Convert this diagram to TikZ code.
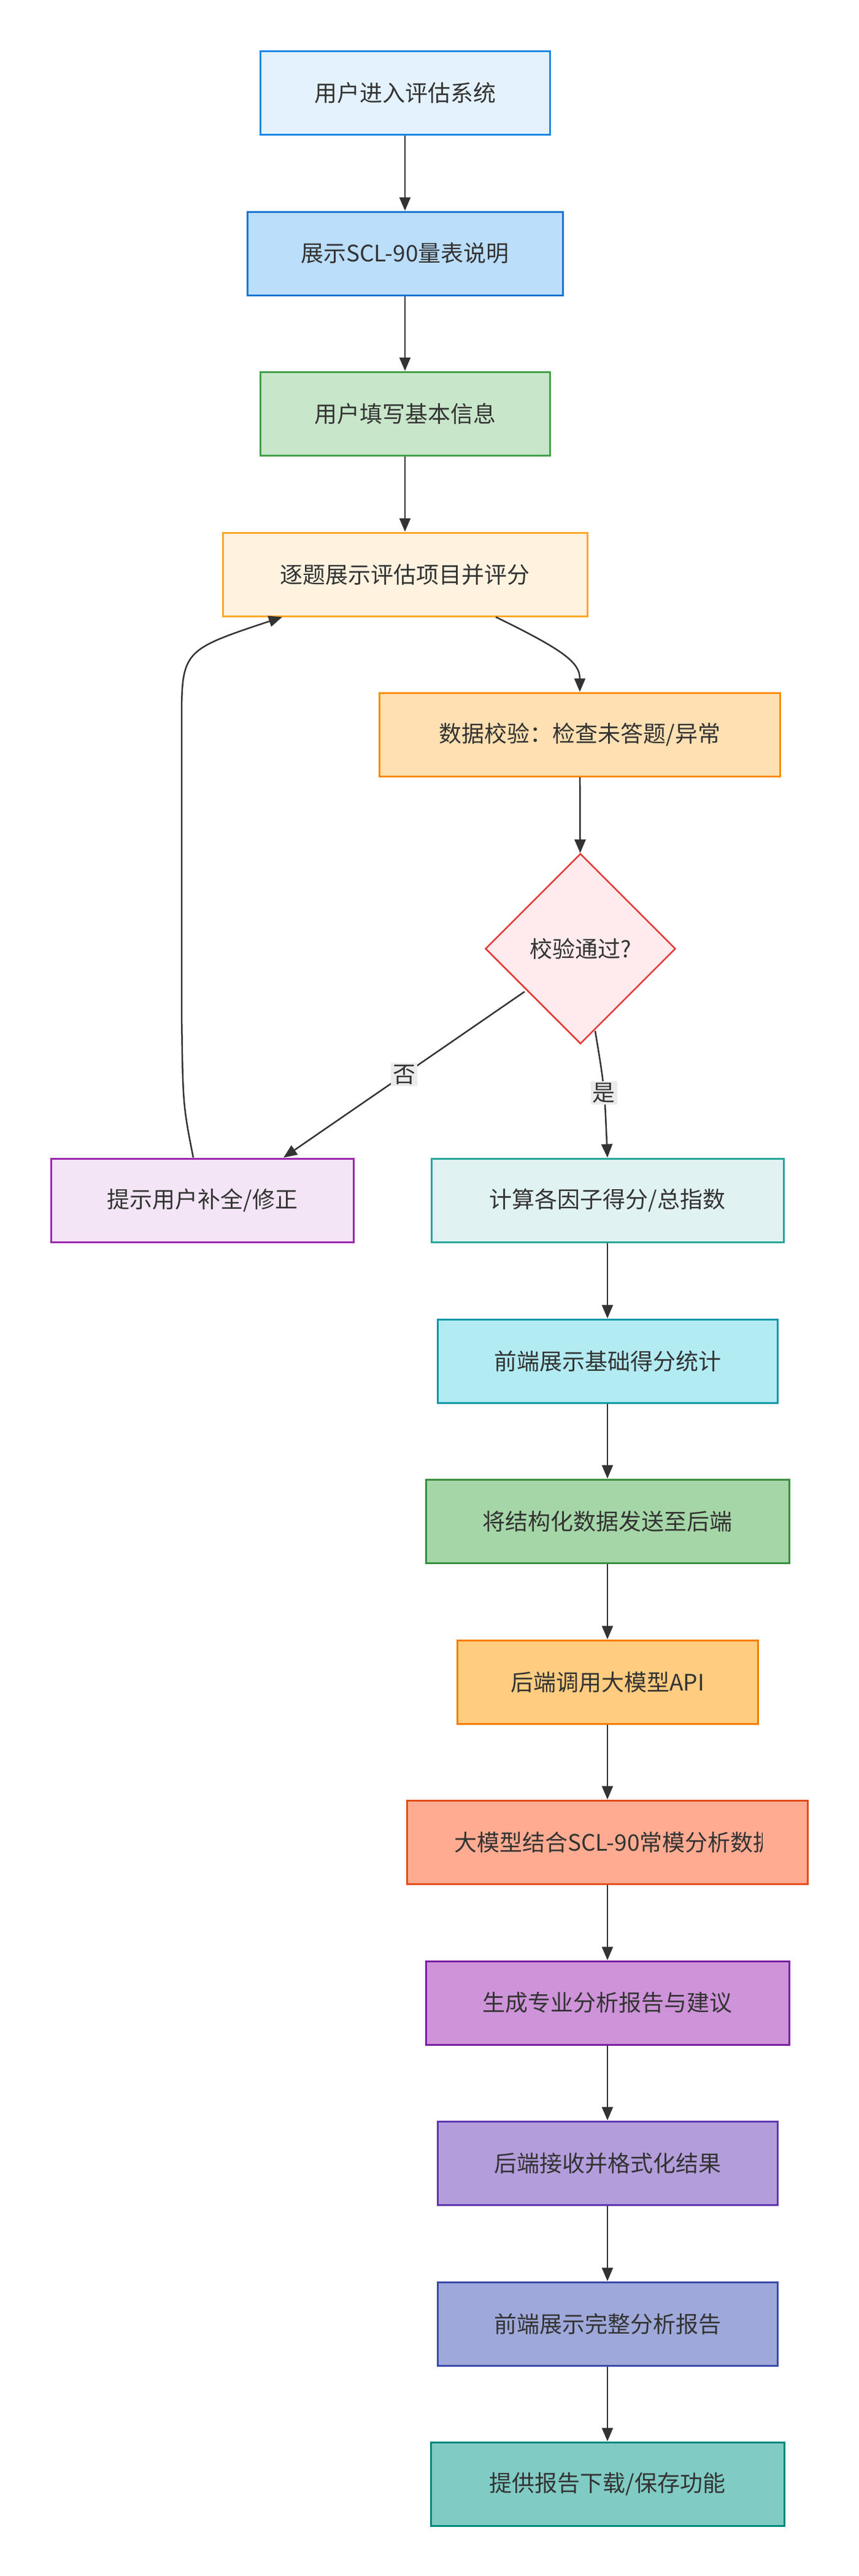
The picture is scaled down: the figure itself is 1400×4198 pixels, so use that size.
\documentclass[tikz,border=0pt]{standalone}
\usepackage{fontspec}
\setmainfont{Noto Sans CJK SC}
\usetikzlibrary{arrows.meta,shapes.geometric}
\definecolor{txt}{HTML}{333333}
\begin{document}
\begin{tikzpicture}[x=1pt,y=-1pt,
  box/.style={draw, line width=3pt, inner sep=0pt, text=txt, font=\fontsize{37}{40}\selectfont, minimum height=136pt},
  arr/.style={draw=txt, line width=2.5pt, -{Triangle[length=22pt,width=18pt]}},
  lab/.style={fill=black!8, text=txt, font=\fontsize{37}{40}\selectfont, inner sep=3pt}]
\useasboundingbox (0,0) rectangle (1400,4198);
\def\bx#1#2#3#4#5#6#7{\node[box, fill={[HTML]#5}, draw={[HTML]#6}, minimum width=#3pt] (#1) at (#2,#4) {#7};}
\node[box, fill={rgb,255:red,227;green,242;blue,253}, draw={rgb,255:red,30;green,136;blue,229}, minimum width=472pt] (n1) at (660,151) {用户进入评估系统};
\definecolor{f2}{HTML}{BBDEFB}\definecolor{s2}{HTML}{1976D2}
\definecolor{f3}{HTML}{C8E6C9}\definecolor{s3}{HTML}{43A047}
\definecolor{f4}{HTML}{FFF3E0}\definecolor{s4}{HTML}{FFA726}
\definecolor{f5}{HTML}{FFE0B2}\definecolor{s5}{HTML}{FB8C00}
\definecolor{fd}{HTML}{FFEBEE}\definecolor{sd}{HTML}{E53935}
\definecolor{f6}{HTML}{F3E5F5}\definecolor{s6}{HTML}{9C27B0}
\definecolor{f7}{HTML}{E0F2F1}\definecolor{s7}{HTML}{26A69A}
\definecolor{f8}{HTML}{B2EBF2}\definecolor{s8}{HTML}{0097A7}
\definecolor{f9}{HTML}{A5D6A7}\definecolor{s9}{HTML}{388E3C}
\definecolor{f10}{HTML}{FFCC80}\definecolor{s10}{HTML}{F57C00}
\definecolor{f11}{HTML}{FFAB91}\definecolor{s11}{HTML}{E64A19}
\definecolor{f12}{HTML}{CE93D8}\definecolor{s12}{HTML}{7B1FA2}
\definecolor{f13}{HTML}{B39DDB}\definecolor{s13}{HTML}{5E35B1}
\definecolor{f14}{HTML}{9FA8DA}\definecolor{s14}{HTML}{3949AB}
\definecolor{f15}{HTML}{80CBC4}\definecolor{s15}{HTML}{00897B}
\node[box, fill=f2, draw=s2, minimum width=514pt] (n2) at (660,413) {展示SCL-90量表说明};
\node[box, fill=f3, draw=s3, minimum width=472pt] (n3) at (660,674) {用户填写基本信息};
\node[box, fill=f4, draw=s4, minimum width=594pt] (n4) at (660,936) {逐题展示评估项目并评分};
\node[box, fill=f5, draw=s5, minimum width=653pt] (n5) at (945,1197) {数据校验：检查未答题/异常};
\node[diamond, draw=sd, fill=fd, line width=2.5pt, aspect=1, minimum width=310pt, minimum height=310pt, inner sep=0pt, text=txt, font=\fontsize{37}{40}\selectfont] (d) at (946,1546) {校验通过?};
\node[box, fill=f6, draw=s6, minimum width=493pt] (n6) at (330,1956) {提示用户补全/修正};
\node[box, fill=f7, draw=s7, minimum width=574pt] (n7) at (990,1956) {计算各因子得分/总指数};
\node[box, fill=f8, draw=s8, minimum width=554pt] (n8) at (990,2218) {前端展示基础得分统计};
\node[box, fill=f9, draw=s9, minimum width=592pt] (n9) at (990,2479) {将结构化数据发送至后端};
\node[box, fill=f10, draw=s10, minimum width=490pt] (n10) at (990,2741) {后端调用大模型API};
\node[box, fill=f11, draw=s11, minimum width=653pt] (n11) at (990,3002) {};
\begin{scope}
\clip (664,2940) rectangle (1242,3070);
\node[anchor=west, inner sep=0pt, text=txt, font=\fontsize{37}{40}\selectfont] (t11) at (740,3002) {大模型结合SCL-90常模分析数据};
\end{scope}
\node[box, fill=f12, draw=s12, minimum width=592pt] (n12) at (990,3264) {生成专业分析报告与建议};
\node[box, fill=f13, draw=s13, minimum width=554pt] (n13) at (990,3525) {后端接收并格式化结果};
\node[box, fill=f14, draw=s14, minimum width=554pt] (n14) at (990,3787) {前端展示完整分析报告};
\node[box, fill=f15, draw=s15, minimum width=576pt] (n15) at (990,4048) {提供报告下载/保存功能};
\draw[arr] (n1) -- (n2);
\draw[arr] (n2) -- (n3);
\draw[arr] (n3) -- (n4);
\draw[arr] (n4.south -| 808,0) .. controls (920,1060) and (945,1080) .. (n5.north);
\draw[arr] (n5) -- (d);
\coordinate (dl) at (855,1616);
\coordinate (dr) at (970,1680);
\draw[arr] (dl) -- node[lab, pos=0.5] {否} (n6.north -| 462,0);
\draw[arr] (dr) .. controls (985,1770) .. node[lab, pos=0.55] {是} (n7.north);
\draw[arr] (n6.north -| 315,0) .. controls (298,1800) .. (296,1650) -- (296,1180) .. controls (296,1060) .. (n4.south -| 460,0);
\foreach \a/\b in {n7/n8,n8/n9,n9/n10,n10/n11,n11/n12,n12/n13,n13/n14,n14/n15} \draw[arr] (\a) -- (\b);
\end{tikzpicture}
\end{document}
